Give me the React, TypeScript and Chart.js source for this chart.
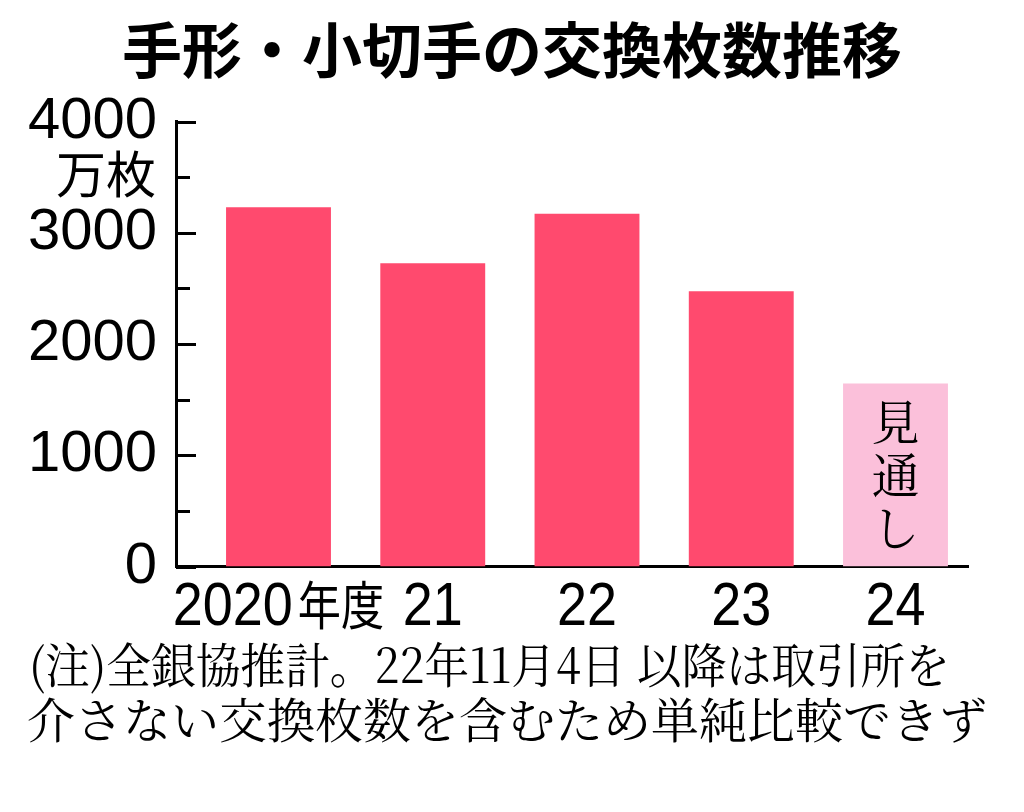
import React, { useEffect, useRef } from 'react';
import { Chart, registerables } from 'chart.js';

Chart.register(...registerables);

const titleText = '手形・小切手の交換枚数推移';
const categories = ['2020年度', '21', '22', '23', '24'];
const values = [3230, 2725, 3170, 2475, 1645];
const isForecast = [false, false, false, false, true];
const yMax = 4000;
const yStep = 500;
const yLabelStep = 1000;
const unitLabel = '万枚';
const forecastLabel = '見通し';
const noteLines = [
  '(注)全銀協推計。22年11月4日 以降は取引所を',
  '介さない交換枚数を含むため単純比較できず',
];

const mainColor = '#FF4A6E';
const forecastColor = '#FBC0DA';
const numFont = '"Liberation Sans", "Noto Sans CJK JP", sans-serif';
const cjkFont = '"Noto Sans CJK JP", sans-serif';
const serifFont = '"Noto Serif CJK JP", "Noto Sans CJK JP", serif';

// draw a category label as condensed runs (ASCII digits / CJK)
function drawCondensedLabel(ctx: CanvasRenderingContext2D, text: string, cx: number, baseline: number) {
  const runs: { t: string; cjk: boolean }[] = [];
  for (const ch of Array.from(text)) {
    const cjk = ch.charCodeAt(0) > 255;
    const last = runs[runs.length - 1];
    if (last && last.cjk === cjk) last.t += ch;
    else runs.push({ t: ch, cjk });
  }
  const styled = runs.map((r) => {
    const font = r.cjk ? `52px ${cjkFont}` : `62px ${numFont}`;
    const sx = r.cjk ? 0.83 : 0.87;
    ctx.font = font;
    const w = ctx.measureText(r.t).width * sx;
    return { ...r, font, sx, w, gap: r.cjk ? 5 : 0 };
  });
  const total = styled.reduce((a, r) => a + r.w + r.gap, 0);
  let x = cx - total / 2;
  styled.forEach((r) => {
    x += r.gap;
    ctx.save();
    ctx.translate(x, baseline);
    ctx.scale(r.sx, 1);
    ctx.font = r.font;
    ctx.textAlign = 'left';
    ctx.textBaseline = 'alphabetic';
    ctx.fillText(r.t, 0, 0);
    ctx.restore();
    x += r.w;
  });
}

const overlayPlugin = {
  id: 'overlay',
  afterDraw(chart: any) {
    const ctx = chart.ctx as CanvasRenderingContext2D;
    const y = chart.scales.y;
    const xs = chart.scales.x;
    const area = chart.chartArea;
    ctx.save();
    // inward tick marks
    ctx.strokeStyle = '#000';
    ctx.lineWidth = 3;
    for (let v = 0; v <= yMax; v += yStep) {
      const py = Math.round(y.getPixelForValue(v)) + 0.5;
      const len = v % yLabelStep === 0 ? 20 : 14;
      ctx.beginPath();
      ctx.moveTo(area.left, py);
      ctx.lineTo(area.left + len, py);
      ctx.stroke();
    }
    ctx.fillStyle = '#000';
    // category labels
    categories.forEach((c, i) => {
      drawCondensedLabel(ctx, c, xs.getPixelForValue(i), area.bottom + 58.5);
    });
    // unit label
    ctx.font = `50px ${cjkFont}`;
    ctx.textAlign = 'right';
    ctx.textBaseline = 'middle';
    ctx.fillText(unitLabel, 156, y.getPixelForValue(yMax) + 52);
    // forecast label (vertical)
    const meta = chart.getDatasetMeta(0);
    ctx.textAlign = 'center';
    ctx.font = `48px ${serifFont}`;
    isForecast.forEach((f, i) => {
      if (!f) return;
      const el = meta.data[i];
      Array.from(forecastLabel).forEach((ch, k) => {
        ctx.fillText(ch, el.x, el.y + 38 + k * 53);
      });
    });
    // notes
    ctx.textAlign = 'left';
    ctx.font = `48px ${serifFont}`;
    const starts = [29, 27];
    const widths = [921, 966];
    noteLines.forEach((line, k) => {
      ctx.fillText(line, starts[k], 665 + k * 55, widths[k]);
    });
    ctx.restore();
  },
};

export default function App() {
  const canvasRef = useRef<HTMLCanvasElement | null>(null);

  useEffect(() => {
    if (!canvasRef.current) return;
    const chart = new Chart(canvasRef.current, {
      type: 'bar',
      data: {
        datasets: [
          {
            data: values.map((v, i) => ({ x: i, y: v })),
            backgroundColor: isForecast.map((f) => (f ? forecastColor : mainColor)),
            borderWidth: 0,
            barPercentage: 0.85,
            categoryPercentage: 0.8,
          },
        ],
      },
      options: {
        animation: false,
        responsive: false,
        maintainAspectRatio: false,
        layout: { padding: { left: 0, right: 0, top: 0, bottom: 0 } },
        plugins: {
          legend: { display: false },
          tooltip: { enabled: false },
          title: {
            display: true,
            text: titleText,
            color: '#000',
            font: { size: 60, weight: 'bold', family: cjkFont, lineHeight: 1.2 },
            padding: { top: 14, bottom: 35.5 },
          },
        },
        scales: {
          x: {
            type: 'linear',
            offset: false,
            min: -0.6645,
            max: 4.47,
            afterBuildTicks: (s: any) => {
              s.ticks = categories.map((_, i) => ({ value: i }));
            },
            afterFit: (s: any) => {
              s.height = 245.5;
            },
            grid: { display: false, offset: false },
            border: { display: true, color: '#000', width: 3 },
            ticks: { display: false },
          },
          y: {
            min: 0,
            max: yMax,
            afterFit: (s: any) => {
              s.width = 176;
            },
            grid: { display: false, drawTicks: false },
            border: { display: true, color: '#000', width: 3 },
            ticks: {
              stepSize: yStep,
              autoSkip: false,
              color: '#000',
              padding: 19,
              font: { size: 58, family: numFont },
              callback: (v: any) => (Number(v) % yLabelStep === 0 ? String(v) : ''),
            },
          },
          yRight: {
            position: 'right',
            min: 0,
            max: yMax,
            afterFit: (s: any) => {
              s.width = 56;
            },
            grid: { display: false, drawTicks: false },
            border: { display: false },
            ticks: { display: false },
          },
        },
      },
      plugins: [overlayPlugin],
    });
    return () => chart.destroy();
  }, []);

  return (
    <div style={{ position: 'absolute', left: 0, top: 0, width: 1024, height: 812, background: '#fff' }}>
      <canvas ref={canvasRef} width={1024} height={812} />
    </div>
  );
}
